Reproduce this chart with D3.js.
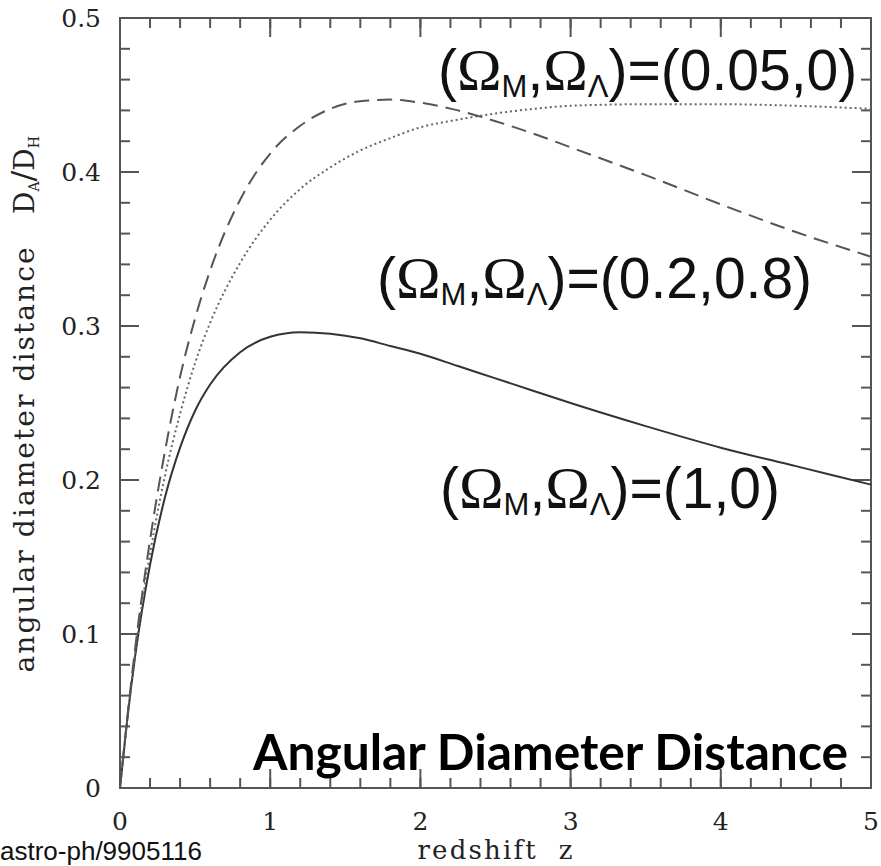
<!DOCTYPE html>
<html><head><meta charset="utf-8">
<script src="https://cdn.jsdelivr.net/npm/d3@7"></script>
<style>
html,body{margin:0;padding:0;background:#fff;}
svg{display:block;}
</style></head>
<body>
<svg id="chart" width="881" height="866"></svg>
<script>
// ---- data ----
const redshift = [0, 0.05, 0.1, 0.2, 0.3, 0.4, 0.5, 0.6, 0.8, 1.0, 1.2, 1.4, 1.6, 1.8, 2.0, 2.25, 2.5, 2.75, 3.0, 3.5, 4.0, 4.5, 5.0];
const daMatter  = [0, 0.046, 0.085, 0.145, 0.189, 0.221, 0.245, 0.262, 0.283, 0.293, 0.296, 0.295, 0.292, 0.287, 0.282, 0.274, 0.266, 0.258, 0.250, 0.235, 0.221, 0.209, 0.197];   // (1,0) solid
const daOpen    = [0, 0.046, 0.087, 0.152, 0.203, 0.243, 0.276, 0.302, 0.341, 0.369, 0.389, 0.403, 0.414, 0.422, 0.429, 0.434, 0.438, 0.441, 0.443, 0.444, 0.444, 0.443, 0.441]; // (0.05,0) dotted
const daLambda  = [0, 0.047, 0.090, 0.161, 0.219, 0.267, 0.305, 0.336, 0.382, 0.412, 0.430, 0.441, 0.446, 0.447, 0.445, 0.440, 0.433, 0.425, 0.416, 0.398, 0.379, 0.361, 0.345]; // (0.2,0.8) dashed
const xTicks = [0, 1, 2, 3, 4, 5];
const xTickLabels = ["0", "1", "2", "3", "4", "5"];
const yTicks = [0, 0.1, 0.2, 0.3, 0.4, 0.5];
const yTickLabels = ["0", "0.1", "0.2", "0.3", "0.4", "0.5"];
const labelMatter = "(1,0)";
const labelOpen = "(0.05,0)";
const labelLambda = "(0.2,0.8)";
const title = "Angular Diameter Distance";
const xTitle = "redshift  z";
const yTitle = "angular diameter distance";
const source = "astro-ph/9905116";

// ---- layout ----
const svg = d3.select("#chart");
const L = 120, R = 871, T = 18, B = 788;
const x = d3.scaleLinear().domain([0, 5]).range([L, R]);
const y = d3.scaleLinear().domain([0, 0.5]).range([B, T]);
const frameColor = "#555";
const serif = "'DejaVu Serif', serif";
const sans = "'Liberation Sans', Arial, sans-serif";

const xMinor = d3.range(0, 5.0001, 0.2);
const yMinor = d3.range(0, 0.5001, 0.02);

// ticks on all four sides (drawn through the scales)
const tg = svg.append("g").attr("stroke", frameColor).attr("stroke-width", 2);
function xTickMarks(vals, len) {
  tg.selectAll(null).data(vals).enter().append("line")
    .attr("x1", d => x(d)).attr("x2", d => x(d)).attr("y1", B).attr("y2", B - len);
  tg.selectAll(null).data(vals).enter().append("line")
    .attr("x1", d => x(d)).attr("x2", d => x(d)).attr("y1", T).attr("y2", T + len);
}
function yTickMarks(vals, len) {
  tg.selectAll(null).data(vals).enter().append("line")
    .attr("y1", d => y(d)).attr("y2", d => y(d)).attr("x1", L).attr("x2", L + len);
  tg.selectAll(null).data(vals).enter().append("line")
    .attr("y1", d => y(d)).attr("y2", d => y(d)).attr("x1", R).attr("x2", R - len);
}
xTickMarks(xMinor, 10);
yTickMarks(yMinor, 10);
xTickMarks(xTicks, 19);
yTickMarks(yTicks, 19);

// tick labels
svg.append("g").selectAll("text").data(xTicks).enter().append("text")
  .attr("x", d => x(d)).attr("y", 830).attr("text-anchor", "middle")
  .attr("font-family", serif).attr("font-size", 25).attr("fill", "#222")
  .text((d, i) => xTickLabels[i]);
svg.append("g").selectAll("text").data(yTicks).enter().append("text")
  .attr("x", 101).attr("y", d => y(d)).attr("dy", "0.36em").attr("text-anchor", "end")
  .attr("font-family", serif).attr("font-size", 25).attr("fill", "#222")
  .text((d, i) => yTickLabels[i]);

// frame
svg.append("rect").attr("x", L).attr("y", T).attr("width", R - L).attr("height", B - T)
  .attr("fill", "none").attr("stroke", frameColor).attr("stroke-width", 2);

// curves
const line = (vals) => d3.line()
  .x((d, i) => x(redshift[i]))
  .y(d => y(d))
  .curve(d3.curveMonotoneX)(vals);

svg.append("path").attr("d", line(daMatter)).attr("fill", "none")
  .attr("stroke", "#333").attr("stroke-width", 2);
svg.append("path").attr("d", line(daOpen)).attr("fill", "none")
  .attr("stroke", "#666").attr("stroke-width", 2).attr("stroke-dasharray", "2,3");
svg.append("path").attr("d", line(daLambda)).attr("fill", "none")
  .attr("stroke", "#555").attr("stroke-width", 2).attr("stroke-dasharray", "15,8");

// axis titles
svg.append("text").attr("x", 495).attr("y", 859).attr("text-anchor", "middle")
  .attr("font-family", serif).attr("font-size", 26).attr("fill", "#222")
  .attr("textLength", 155).attr("lengthAdjust", "spacing")
  .style("white-space", "pre").text(xTitle);

svg.append("text").attr("transform", "translate(34,460) rotate(-90)")
  .attr("text-anchor", "middle").attr("font-family", serif).attr("font-size", 28).attr("fill", "#222")
  .attr("textLength", 425).attr("lengthAdjust", "spacing").text(yTitle);

const dq = svg.append("text").attr("transform", "translate(34,175) rotate(-90)")
  .attr("text-anchor", "middle").attr("font-family", serif).attr("font-size", 28).attr("fill", "#222");
dq.append("tspan").text("D");
dq.append("tspan").attr("font-size", 14).attr("dy", 5).text("A");
dq.append("tspan").attr("font-size", 32).attr("dy", -5).text("/");
dq.append("tspan").text("D");
dq.append("tspan").attr("font-size", 14).attr("dy", 5).text("H");

// parameter annotations
function paramLabel(px, py, value) {
  const t = svg.append("text").attr("x", px).attr("y", py)
    .attr("font-family", sans).attr("font-size", 57).attr("fill", "#111");
  t.append("tspan").text("(");
  t.append("tspan").attr("font-family", "'Liberation Serif', serif").attr("font-size", 60).text("\u03A9");
  t.append("tspan").attr("font-size", 31).attr("dy", 7).text("M");
  t.append("tspan").attr("dy", -7).text(",");
  t.append("tspan").attr("font-family", "'Liberation Serif', serif").attr("font-size", 60).text("\u03A9");
  t.append("tspan").attr("font-size", 31).attr("dy", 7).text("\u039B");
  t.append("tspan").attr("dy", -7).text(")=" + value);
  return t;
}
paramLabel(438, 90, labelOpen);
paramLabel(377, 298, labelLambda);
paramLabel(440, 508, labelMatter);

// title
const tt = svg.append("text").attr("x", 253).attr("y", 770)
  .attr("font-family", "Lato, 'Open Sans', sans-serif").attr("font-weight", 700)
  .attr("font-size", 42).attr("fill", "#000").text(title);
const w = tt.node().getComputedTextLength();
if (w > 0) tt.attr("font-size", 42 * 595 / w);

// source note
svg.append("text").attr("x", 0).attr("y", 860)
  .attr("font-family", sans).attr("font-size", 26).attr("fill", "#111").text(source);
</script>
</body></html>
